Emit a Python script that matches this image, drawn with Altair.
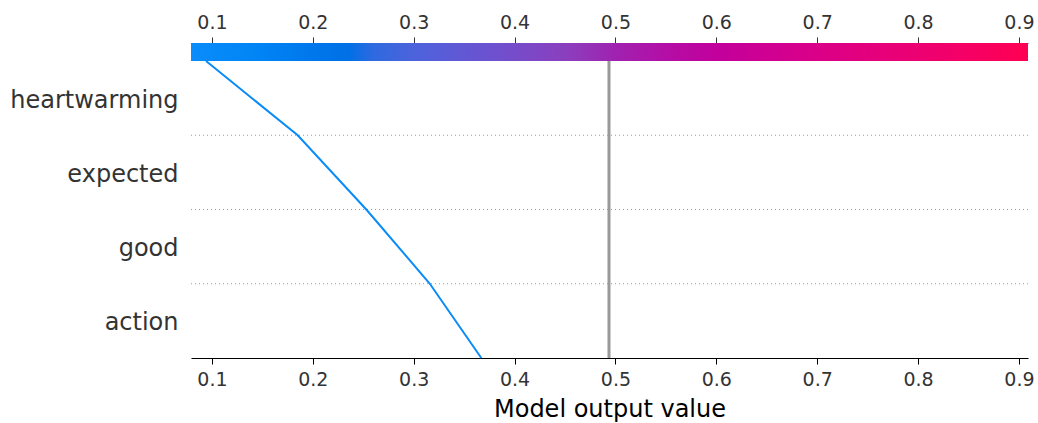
import json
import altair as alt
import pandas as pd

# ---- data ----
features = ["heartwarming", "expected", "good", "action"]          # top -> bottom
path_values = [0.0941, 0.185, 0.253, 0.316, 0.367]                  # model output at each boundary
path_rows = [4, 3, 2, 1, 0]
base_value = 0.4936
x_min, x_max = 0.0792, 0.909
tick_values = [0.1, 0.2, 0.3, 0.4, 0.5, 0.6, 0.7, 0.8, 0.9]
grid_rows = [1, 2, 3]
label_rows = [3.5, 2.5, 1.5, 0.5]
bar_bottom, bar_top = 4, 4.2424

# colour map stops (value, colour)
cmap_values = [0.0792, 0.15, 0.21, 0.235, 0.26, 0.30, 0.35, 0.40, 0.45, 0.50,
               0.55, 0.60, 0.65, 0.70, 0.75, 0.80, 0.85, 0.909]
cmap_colors = ["#0a8dfb", "#0083f4", "#0075ea", "#0070e6", "#2f69e0", "#4c63dc",
               "#6257d4", "#764cca", "#8a3fbe", "#a022b0", "#b40ea6", "#c2009c",
               "#cf0092", "#da0088", "#e4007d", "#ec0072", "#f60065", "#ff0052"]

W, H = 837, 315
FONT = "DejaVu Sans"

line_df = pd.DataFrame({"value": path_values, "row": path_rows})
bar_df = pd.DataFrame({"x": [x_min], "x2": [x_max], "y": [bar_bottom], "y2": [bar_top]})
grid_df = pd.DataFrame({"row": grid_rows, "x": [x_min] * len(grid_rows), "x2": [x_max] * len(grid_rows)})
base_df = pd.DataFrame({"x": [base_value], "y": [0], "y2": [bar_bottom]})

xscale = alt.Scale(domain=[x_min, x_max], nice=False, zero=False)
yscale = alt.Scale(domain=[0, bar_top], nice=False, zero=False)

rev = list(reversed(features))  # index by floor(row)
label_expr = json.dumps(rev) + "[floor(datum.value)]"

yaxis = alt.Axis(
    orient="left", values=label_rows, labelExpr=label_expr, title=None,
    grid=False, domain=False, ticks=False, labelFontSize=24, labelOffset=2,
    labelColor="#333333", labelPadding=13, labelFont=FONT)

stops = [alt.GradientStop(offset=(v - x_min) / (x_max - x_min), color=c)
         for v, c in zip(cmap_values, cmap_colors)]

colorbar = alt.Chart(bar_df).mark_rect(
    fill=alt.Gradient(gradient="linear", stops=stops, x1=0, x2=1, y1=0, y2=0)
).encode(
    x=alt.X("x:Q", scale=xscale, axis=alt.Axis(
        orient="top", values=tick_values, format=".1f", title=None, grid=False,
        domainColor="#555555", domainWidth=1.2, tickColor="#333333", tickSize=6,
        labelFontSize=19, labelColor="#333333", labelPadding=5, labelFont=FONT)),
    x2="x2:Q",
    y=alt.Y("y:Q", scale=yscale, axis=yaxis),
    y2="y2:Q",
)

grid = alt.Chart(grid_df).mark_rule(
    color="#999999", strokeWidth=1, strokeDash=[1, 3]
).encode(
    x=alt.X("x:Q", scale=xscale, axis=None),
    x2="x2:Q",
    y=alt.Y("row:Q", scale=yscale, axis=yaxis),
)

base = alt.Chart(base_df).mark_rule(color="#999999", strokeWidth=3).encode(
    x=alt.X("x:Q", scale=xscale, axis=None),
    y=alt.Y("y:Q", scale=yscale, axis=yaxis),
    y2="y2:Q",
)

line = alt.Chart(line_df).mark_line(color="#0a8cf7", strokeWidth=2).encode(
    x=alt.X("value:Q", scale=xscale, axis=alt.Axis(
        orient="bottom", values=tick_values, format=".1f", title="Model output value",
        grid=False, domainColor="black", domainWidth=1.2, tickColor="black", tickSize=6,
        labelFontSize=19, labelColor="#333333", labelPadding=6, labelFont=FONT,
        titleFontSize=24, titleFontWeight="normal", titleColor="black",
        titleFont=FONT, titlePadding=8)),
    y=alt.Y("row:Q", scale=yscale, axis=yaxis),
    order=alt.Order("row:Q", sort="descending"),
)

chart = alt.layer(colorbar, grid, base, line).resolve_axis(x="independent").properties(
    width=W, height=H,
    autosize=alt.AutoSizeParams(type="none"),
    padding={"left": 191, "top": 43, "right": 10, "bottom": 65},
).configure(
    font=FONT,
    view=alt.ViewConfig(stroke="transparent", strokeWidth=0),
    axis=alt.AxisConfig(grid=False),
    axisY=alt.AxisConfig(domain=False, ticks=False, grid=False),
    axisLeft=alt.AxisConfig(domain=False, ticks=False),
    axisRight=alt.AxisConfig(domain=False, ticks=False),
)

chart.save("out.html", embed_options={"renderer": "svg", "actions": False})
